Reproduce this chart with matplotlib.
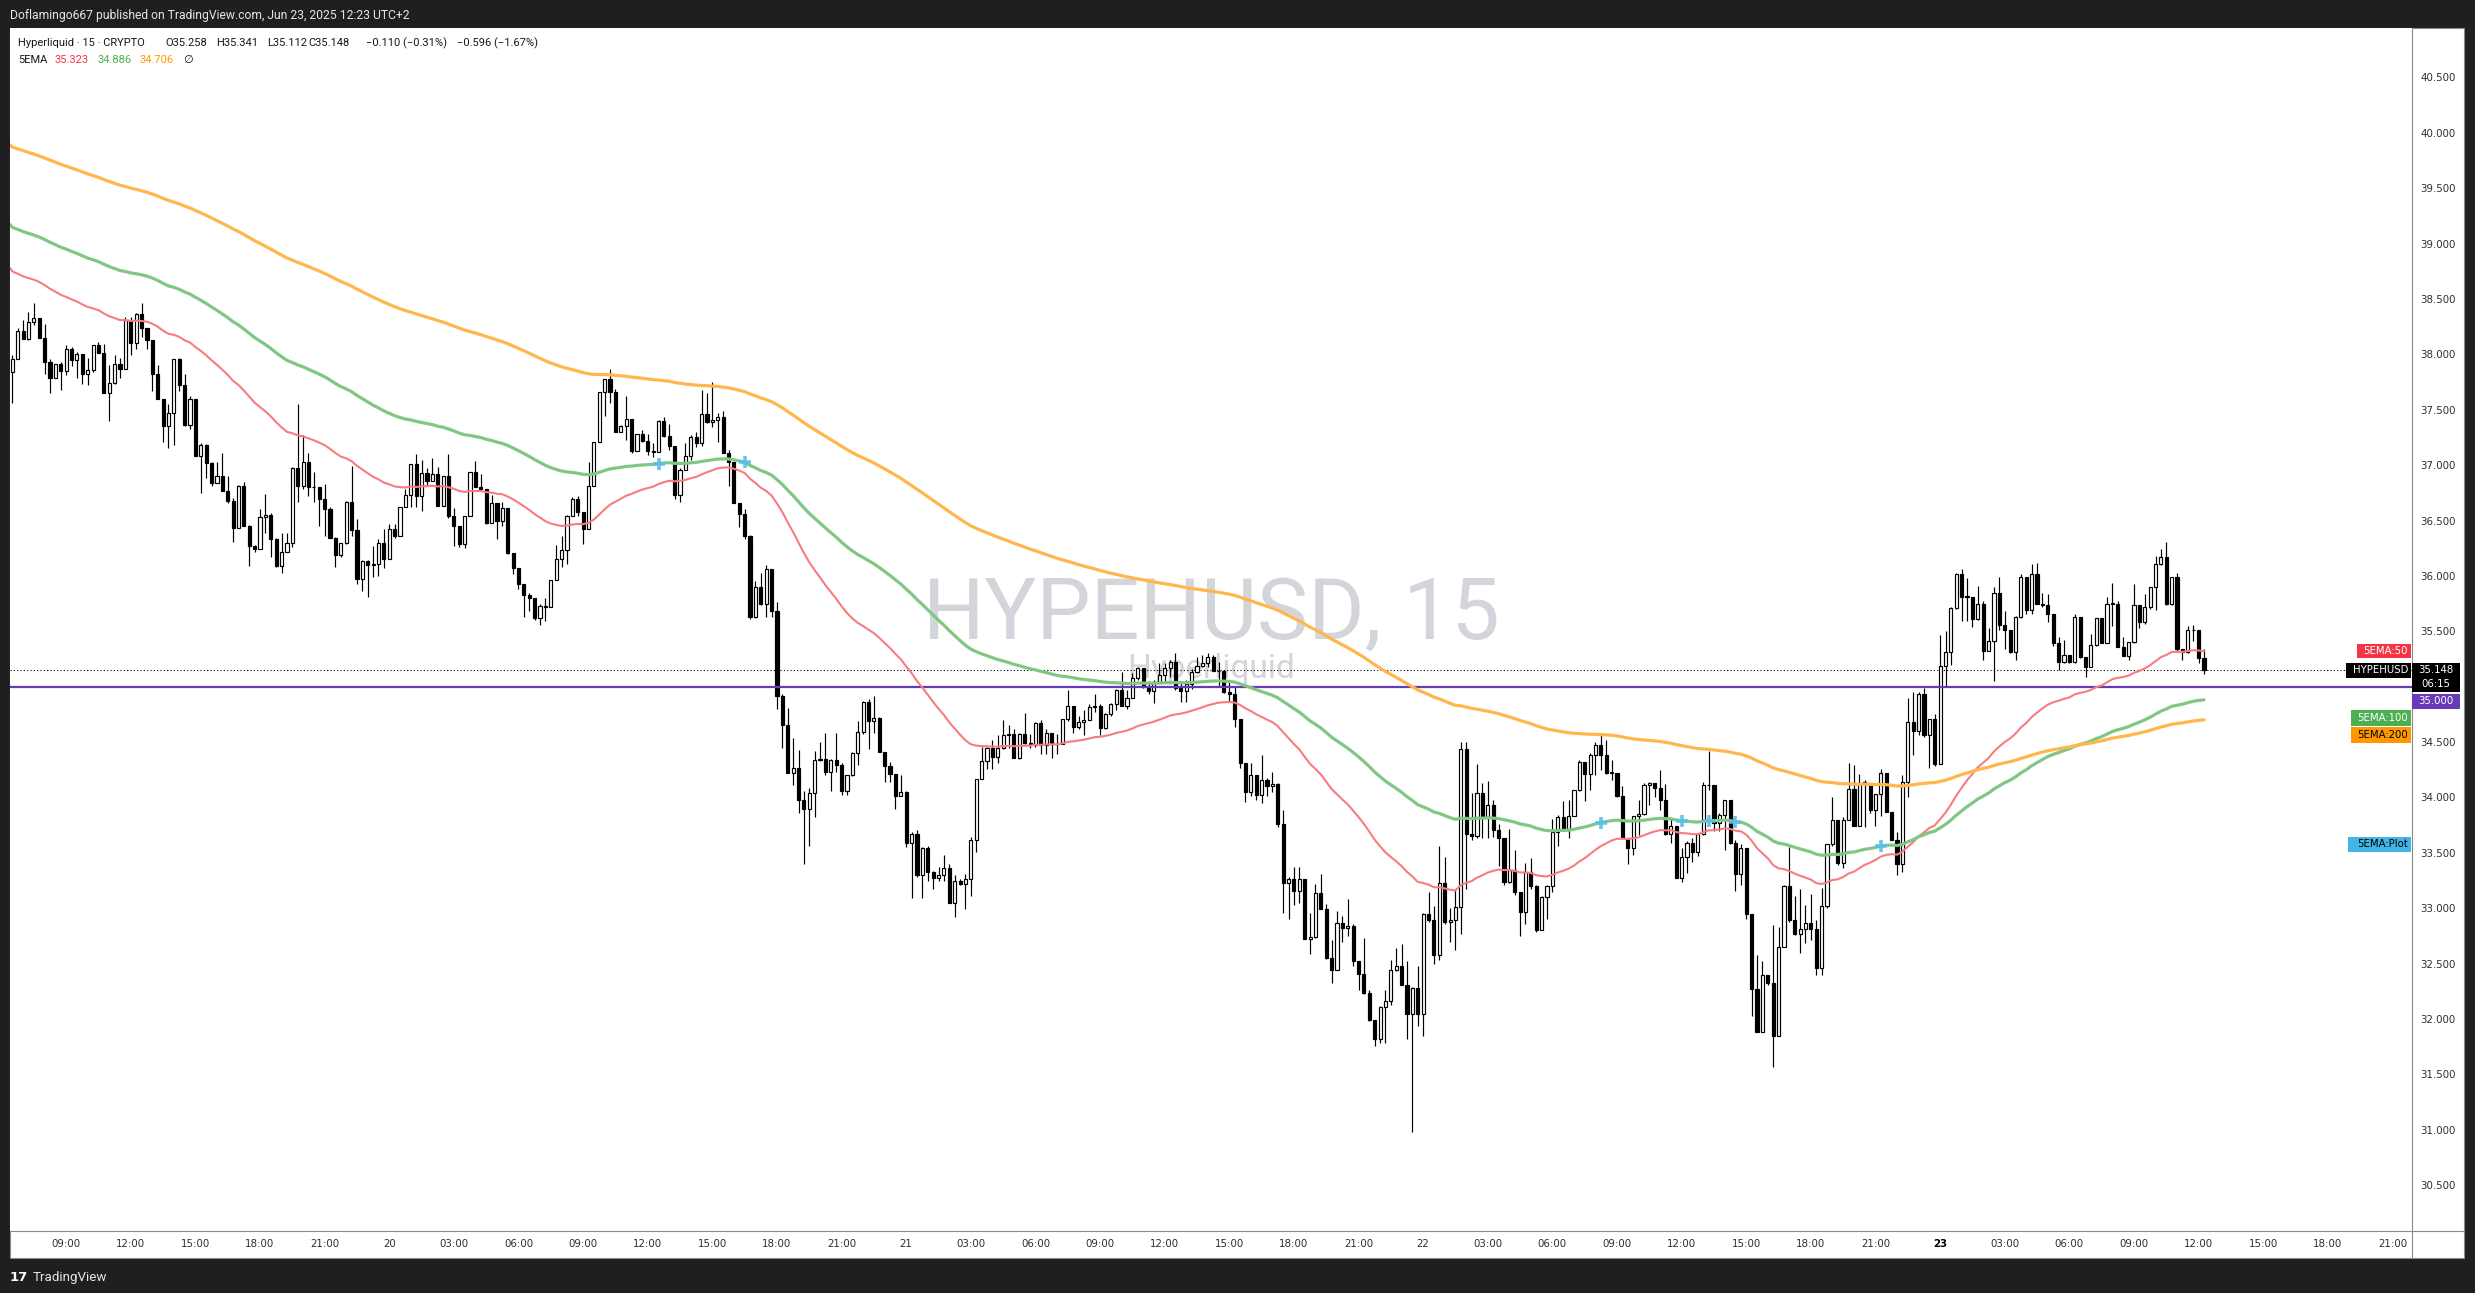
import numpy as np
import pandas as pd
import matplotlib
matplotlib.use("Agg")
import matplotlib.pyplot as plt
from matplotlib.patches import Rectangle
from matplotlib.lines import Line2D

# ---------------- data (15-min candles, HYPEHUSD, from 2025-06-19 06:30) ----------------
start_time = "2025-06-19 06:30"
first_open = 37.84
closes = [
    37.96, 38.21, 38.14, 38.29, 38.33, 38.15, 37.93, 37.79, 37.91, 37.85,
    38.05, 37.95, 38.00, 37.82, 37.86, 38.08, 38.01, 37.65, 37.74, 37.91,
    37.87, 38.31, 38.10, 38.36, 38.24, 38.13, 37.82, 37.60, 37.35, 37.47,
    37.96, 37.72, 37.36, 37.60, 37.08, 37.18, 37.02, 36.84, 36.90, 36.77,
    36.68, 36.43, 36.81, 36.45, 36.27, 36.24, 36.53, 36.55, 36.33, 36.09,
    36.22, 36.30, 36.97, 36.81, 37.03, 36.80, 36.80, 36.69, 36.60, 36.34,
    36.19, 36.30, 36.67, 36.41, 35.97, 36.13, 36.10, 36.11, 36.30, 36.15,
    36.42, 36.36, 36.62, 36.73, 37.01, 36.72, 36.93, 36.86, 36.92, 36.63,
    36.90, 36.54, 36.45, 36.29, 36.54, 36.94, 36.80, 36.78, 36.48, 36.66,
    36.50, 36.61, 36.21, 36.07, 35.93, 35.83, 35.80, 35.62, 35.73, 35.72,
    35.96, 36.15, 36.23, 36.54, 36.69, 36.58, 36.42, 36.81, 37.21, 37.66,
    37.78, 37.66, 37.30, 37.35, 37.42, 37.13, 37.28, 37.22, 37.13, 37.12,
    37.40, 37.26, 37.17, 36.73, 36.96, 37.08, 37.25, 37.20, 37.46, 37.39,
    37.41, 37.43, 37.11, 37.03, 36.66, 36.56, 36.36, 35.63, 35.90, 35.75,
    36.06, 35.68, 34.92, 34.65, 34.22, 34.27, 33.98, 33.90, 34.04, 34.34,
    34.35, 34.23, 34.34, 34.29, 34.06, 34.20, 34.40, 34.59, 34.86, 34.69,
    34.72, 34.41, 34.28, 34.21, 34.01, 34.05, 33.59, 33.67, 33.30, 33.54,
    33.33, 33.27, 33.30, 33.36, 33.05, 33.25, 33.22, 33.26, 33.62, 34.17,
    34.33, 34.45, 34.37, 34.45, 34.56, 34.57, 34.36, 34.57, 34.49, 34.47,
    34.67, 34.47, 34.58, 34.48, 34.48, 34.71, 34.83, 34.64, 34.68, 34.70,
    34.82, 34.83, 34.63, 34.75, 34.84, 34.97, 34.83, 34.90, 35.08, 35.17,
    35.00, 34.96, 35.04, 35.11, 35.17, 35.22, 34.99, 34.96, 35.02, 35.13,
    35.19, 35.21, 35.27, 35.14, 35.14, 34.95, 34.93, 34.71, 34.31, 34.05,
    34.20, 34.02, 34.16, 34.10, 34.12, 33.76, 33.23, 33.26, 33.16, 33.26,
    32.72, 32.74, 33.14, 32.99, 32.55, 32.44, 32.87, 32.82, 32.84, 32.52,
    32.41, 32.24, 31.99, 31.82, 32.11, 32.16, 32.44, 32.48, 32.31, 32.05,
    32.28, 32.05, 32.95, 32.89, 32.58, 33.23, 32.88, 32.89, 33.01, 34.44,
    33.67, 33.65, 34.04, 33.82, 33.93, 33.71, 33.63, 33.24, 33.35, 33.15,
    32.97, 33.33, 33.20, 32.80, 33.10, 33.20, 33.69, 33.82, 33.71, 33.83,
    34.07, 34.32, 34.21, 34.38, 34.47, 34.38, 34.22, 34.22, 34.01, 33.63,
    33.54, 33.83, 33.85, 34.11, 34.13, 34.09, 33.98, 33.67, 33.74, 33.27,
    33.46, 33.59, 33.51, 33.67, 34.11, 34.11, 33.77, 33.84, 33.98, 33.59,
    33.31, 33.54, 32.95, 32.27, 31.88, 32.40, 32.33, 31.85, 32.65, 33.20,
    32.89, 32.77, 32.81, 32.87, 32.81, 32.46, 33.02, 33.58, 33.80, 33.41,
    33.80, 34.08, 33.74, 34.13, 34.13, 33.89, 34.03, 34.22, 33.87, 33.62,
    33.40, 34.14, 34.68, 34.60, 34.93, 34.56, 34.71, 34.30, 35.19, 35.31,
    35.71, 36.02, 35.81, 35.81, 35.61, 35.75, 35.32, 35.41, 35.85, 35.56,
    35.51, 35.31, 35.63, 35.99, 35.69, 36.02, 35.75, 35.74, 35.66, 35.39,
    35.22, 35.29, 35.22, 35.63, 35.27, 35.18, 35.38, 35.62, 35.39, 35.75,
    35.75, 35.36, 35.28, 35.40, 35.74, 35.58, 35.72, 35.90, 36.11, 36.17,
    35.75, 35.99, 35.34, 35.31, 35.51, 35.51, 35.258, 35.148,
]
highs = [
    37.99, 38.24, 38.31, 38.38, 38.46, 38.33, 38.27, 37.96, 37.91, 37.93,
    38.08, 38.07, 38.02, 38.00, 37.97, 38.08, 38.11, 38.09, 37.90, 37.99,
    37.97, 38.34, 38.34, 38.37, 38.46, 38.24, 38.13, 37.90, 37.60, 37.55,
    37.96, 37.97, 37.82, 37.62, 37.60, 37.20, 37.19, 37.03, 37.03, 37.11,
    36.90, 36.70, 36.82, 36.85, 36.46, 36.28, 36.60, 36.74, 36.57, 36.34,
    36.39, 36.39, 36.98, 37.55, 37.27, 37.11, 36.94, 36.80, 36.83, 36.62,
    36.35, 36.30, 36.68, 36.99, 36.51, 36.14, 36.14, 36.27, 36.33, 36.42,
    36.47, 36.47, 36.62, 36.78, 37.01, 37.10, 37.05, 36.97, 37.06, 36.98,
    36.90, 37.10, 36.61, 36.45, 36.54, 36.94, 37.04, 36.92, 36.78, 36.73,
    36.66, 36.67, 36.61, 36.21, 36.07, 35.93, 35.85, 35.80, 35.75, 35.80,
    35.96, 36.28, 36.36, 36.55, 36.71, 36.72, 36.58, 37.03, 37.21, 37.66,
    37.78, 37.87, 37.69, 37.36, 37.62, 37.42, 37.28, 37.32, 37.28, 37.20,
    37.41, 37.43, 37.37, 37.17, 36.97, 37.20, 37.27, 37.30, 37.68, 37.65,
    37.75, 37.47, 37.49, 37.14, 37.03, 36.66, 36.60, 36.37, 35.95, 36.03,
    36.10, 36.06, 35.76, 34.93, 34.81, 34.54, 34.43, 34.06, 34.09, 34.42,
    34.50, 34.58, 34.35, 34.58, 34.31, 34.20, 34.41, 34.69, 34.87, 34.89,
    34.92, 34.73, 34.41, 34.32, 34.21, 34.20, 34.06, 33.69, 33.71, 33.55,
    33.56, 33.34, 33.37, 33.48, 33.40, 33.30, 33.26, 33.31, 33.64, 34.17,
    34.46, 34.46, 34.52, 34.56, 34.70, 34.65, 34.62, 34.58, 34.76, 34.57,
    34.68, 34.70, 34.62, 34.58, 34.57, 34.71, 34.97, 34.83, 34.74, 34.79,
    34.84, 34.93, 34.84, 34.76, 34.85, 34.98, 35.13, 34.97, 35.12, 35.18,
    35.17, 35.05, 35.06, 35.21, 35.21, 35.24, 35.30, 35.05, 35.06, 35.16,
    35.27, 35.29, 35.30, 35.29, 35.22, 35.15, 35.05, 35.01, 34.71, 34.31,
    34.31, 34.20, 34.38, 34.18, 34.23, 34.13, 33.89, 33.28, 33.37, 33.37,
    33.26, 32.96, 33.22, 33.31, 33.04, 32.71, 32.98, 32.93, 33.08, 32.86,
    32.52, 32.73, 32.26, 31.99, 32.12, 32.26, 32.53, 32.64, 32.68, 32.52,
    32.29, 32.48, 32.96, 33.15, 33.02, 33.56, 33.46, 33.00, 33.17, 34.50,
    34.50, 34.04, 34.30, 34.13, 34.15, 33.98, 33.76, 33.63, 33.72, 33.53,
    33.15, 33.41, 33.45, 33.21, 33.11, 33.21, 33.81, 33.84, 33.97, 33.98,
    34.07, 34.34, 34.32, 34.40, 34.50, 34.58, 34.52, 34.34, 34.22, 34.10,
    33.63, 33.83, 33.98, 34.13, 34.14, 34.13, 34.25, 34.12, 33.81, 33.74,
    33.54, 33.61, 33.63, 33.67, 34.14, 34.42, 34.11, 33.86, 33.98, 33.98,
    33.62, 33.58, 33.54, 32.95, 32.58, 32.52, 32.40, 32.85, 32.83, 33.21,
    33.55, 33.11, 33.17, 33.03, 33.13, 32.89, 33.18, 33.58, 34.00, 33.80,
    33.82, 34.31, 34.29, 34.21, 34.16, 34.13, 34.03, 34.26, 34.22, 33.87,
    33.69, 34.20, 34.90, 34.95, 34.95, 34.99, 34.71, 34.75, 35.47, 35.50,
    35.72, 36.03, 36.06, 35.98, 35.81, 35.91, 35.77, 35.53, 35.90, 35.99,
    35.68, 35.51, 35.64, 36.02, 35.99, 36.11, 36.12, 35.85, 35.84, 35.66,
    35.45, 35.42, 35.29, 35.66, 35.63, 35.27, 35.48, 35.62, 35.62, 35.81,
    35.94, 35.77, 35.45, 35.40, 35.93, 35.74, 35.84, 35.90, 36.18, 36.24,
    36.31, 35.99, 36.03, 35.34, 35.55, 35.56, 35.51, 35.341,
]
lows = [
    37.56, 37.96, 38.14, 38.13, 38.26, 38.15, 37.82, 37.65, 37.79, 37.68,
    37.81, 37.89, 37.79, 37.73, 37.72, 37.84, 38.01, 37.65, 37.40, 37.73,
    37.79, 37.87, 37.99, 38.05, 38.16, 38.05, 37.67, 37.60, 37.21, 37.15,
    37.18, 37.67, 37.35, 37.33, 37.08, 36.75, 36.88, 36.81, 36.84, 36.77,
    36.66, 36.31, 36.43, 36.45, 36.09, 36.22, 36.24, 36.39, 36.17, 36.08,
    36.03, 36.22, 36.26, 36.67, 36.78, 36.72, 36.67, 36.45, 36.36, 36.34,
    36.08, 36.17, 36.29, 36.36, 35.93, 35.86, 35.81, 35.99, 36.00, 36.07,
    36.15, 36.34, 36.36, 36.62, 36.62, 36.62, 36.59, 36.82, 36.86, 36.63,
    36.63, 36.52, 36.27, 36.26, 36.25, 36.54, 36.80, 36.78, 36.47, 36.48,
    36.33, 36.45, 36.20, 36.02, 35.88, 35.63, 35.68, 35.60, 35.56, 35.59,
    35.72, 35.96, 36.08, 36.11, 36.54, 36.54, 36.29, 36.42, 36.81, 37.21,
    37.44, 37.56, 37.30, 37.30, 37.23, 37.11, 37.13, 37.21, 37.09, 37.07,
    37.12, 37.25, 37.14, 36.69, 36.67, 36.96, 37.05, 37.16, 37.17, 37.38,
    37.34, 37.21, 37.11, 36.81, 36.66, 36.44, 36.33, 35.61, 35.62, 35.74,
    35.63, 35.63, 34.80, 34.45, 34.22, 34.11, 33.86, 33.40, 33.56, 33.82,
    34.33, 34.20, 34.06, 34.23, 34.02, 34.02, 34.19, 34.29, 34.57, 34.44,
    34.58, 34.41, 34.14, 34.14, 33.90, 34.01, 33.55, 33.09, 33.28, 33.09,
    33.25, 33.17, 33.25, 33.25, 33.05, 32.92, 33.21, 32.99, 33.11, 33.51,
    34.17, 34.26, 34.26, 34.31, 34.44, 34.45, 34.36, 34.35, 34.48, 34.45,
    34.46, 34.39, 34.39, 34.36, 34.39, 34.48, 34.69, 34.58, 34.62, 34.56,
    34.70, 34.77, 34.56, 34.62, 34.74, 34.79, 34.83, 34.80, 34.90, 35.06,
    34.99, 34.93, 34.85, 35.04, 35.03, 35.09, 34.97, 34.86, 34.86, 34.98,
    35.12, 35.18, 35.18, 35.14, 35.00, 34.94, 34.87, 34.64, 34.27, 33.96,
    34.01, 33.98, 33.95, 34.01, 34.05, 33.73, 32.96, 32.90, 33.03, 33.05,
    32.72, 32.59, 32.73, 32.99, 32.54, 32.33, 32.44, 32.70, 32.75, 32.48,
    32.26, 32.23, 31.98, 31.76, 31.78, 31.78, 32.13, 32.43, 32.31, 31.82,
    30.98, 31.94, 31.85, 32.88, 32.50, 32.53, 32.86, 32.70, 32.62, 32.77,
    33.17, 33.62, 33.63, 33.63, 33.63, 33.64, 33.38, 33.21, 33.23, 33.12,
    32.75, 32.86, 33.17, 32.79, 32.80, 32.90, 33.15, 33.56, 33.70, 33.63,
    33.83, 34.06, 33.97, 34.07, 34.20, 34.25, 34.21, 34.16, 34.00, 33.63,
    33.40, 33.48, 33.66, 33.84, 33.93, 34.00, 33.89, 33.66, 33.59, 33.27,
    33.24, 33.32, 33.42, 33.47, 33.66, 34.07, 33.70, 33.70, 33.53, 33.58,
    33.16, 33.21, 32.90, 32.03, 31.88, 31.88, 32.31, 31.57, 31.85, 32.65,
    32.88, 32.76, 32.60, 32.69, 32.71, 32.40, 32.40, 33.00, 33.56, 33.39,
    33.36, 33.80, 33.74, 33.74, 33.73, 33.86, 33.74, 33.83, 33.87, 33.62,
    33.30, 33.33, 34.00, 34.38, 34.56, 34.55, 34.27, 34.28, 34.30, 35.00,
    35.20, 35.70, 35.59, 35.59, 35.54, 35.60, 35.24, 35.32, 35.05, 35.51,
    35.34, 35.30, 35.24, 35.62, 35.66, 35.66, 35.75, 35.72, 35.58, 35.37,
    35.15, 35.21, 35.21, 35.21, 35.26, 35.09, 35.18, 35.37, 35.39, 35.39,
    35.55, 35.36, 35.28, 35.24, 35.39, 35.53, 35.57, 35.70, 35.69, 36.10,
    35.74, 35.74, 35.31, 35.24, 35.30, 35.41, 35.21, 35.112,
]
ema_spans = [50, 100, 200]
ema_seeds = [38.78, 39.17, 39.89]          # EMA values just before the first visible bar
ema_colors = ["#F77C80", "#81C784", "#FFB74D"]
ema_widths = [1.5, 2.3, 2.3]
cross_idx = [120, 136, 295, 310, 315, 320, 347]   # "5EMA:Plot" cross markers
hline_level = 35.0
last_price = 35.148
y_ticks = [30.5, 31.0, 31.5, 32.0, 32.5, 33.0, 33.5, 34.0, 34.5, 35.5,
           36.0, 36.5, 37.0, 37.5, 38.0, 38.5, 39.0, 39.5, 40.0, 40.5]

assert len(closes) == len(highs) == len(lows) == 408

# ---------------- derived ----------------
W, H = 2475, 1293
closes = np.array(closes)
opens = np.r_[first_open, closes[:-1]]
highs = np.maximum.reduce([np.array(highs), opens, closes])
lows = np.minimum.reduce([np.array(lows), opens, closes])
n = len(closes)
x = np.arange(n)

emas = []
for seed, span in zip(ema_seeds, ema_spans):
    s = pd.Series(np.r_[seed, closes]).ewm(span=span, adjust=False).mean().values[1:]
    emas.append(s)

DARK = "#1F1F1F"
TXT = "#131722"
AX_TXT = "#2A2E39"
GRID = "#8A8A8A"
SANS = ["Roboto", "DejaVu Sans"]

fig = plt.figure(figsize=(W / 100, H / 100), dpi=100)
fig.patch.set_facecolor(DARK)

def fx(px):
    return px / W

def fy(py):  # py measured from top
    return 1 - py / H

# white canvas (behind the axes)
fig.patches.append(Rectangle((fx(10), fy(1257.5)), fx(2464 - 10), (1257.5 - 28) / H,
                             transform=fig.transFigure, fc="white", ec=GRID, lw=0.8, zorder=-5))

AX_L, AX_R, AX_T, AX_B = 10, 2412, 28, 1230.5
ax = fig.add_axes([fx(AX_L), fy(AX_B), fx(AX_R - AX_L), (AX_B - AX_T) / H])
ax.set_zorder(1)
ax.set_facecolor("white")
ax.set_xlim(-0.43, 445.63)
ax.set_ylim(30.092, 40.945)

def axp(px, py):
    return ((px - AX_L) / (AX_R - AX_L), (AX_B - py) / (AX_B - AX_T))

# watermark
wx, wy = axp(1211, 639)
ax.text(wx, wy, "HYPEHUSD, 15", transform=ax.transAxes, ha="center", va="baseline",
        fontsize=62, family=SANS, color="#D3D5DB", zorder=0)
wx, wy = axp(1211, 678)
ax.text(wx, wy, "Hyperliquid", transform=ax.transAxes, ha="center", va="baseline",
        fontsize=24, family=SANS, color="#D3D5DB", zorder=0)

# price lines
ax.axhline(last_price, color="black", lw=0.8, ls=(0, (1, 2)), zorder=2)
ax.axhline(hline_level, color="#673AB7", lw=1.6, zorder=5)

# candles
up = closes >= opens
body_bot = np.minimum(opens, closes)
body_h = np.maximum(np.abs(closes - opens), 0.006)
ax.vlines(x, lows, highs, color="black", lw=0.85, zorder=3)
ax.bar(x[up], body_h[up], bottom=body_bot[up], width=0.58, color="white",
       edgecolor="black", linewidth=0.85, zorder=4)
ax.bar(x[~up], body_h[~up], bottom=body_bot[~up], width=0.58, color="black",
       edgecolor="black", linewidth=0.85, zorder=4)

# EMAs
xe = np.r_[-0.43, x]
for e, seed, c, lw in zip(emas, ema_seeds, ema_colors, ema_widths):
    ax.plot(xe, np.r_[seed, e], color=c, lw=lw, zorder=5, solid_capstyle="round")
ax.plot(cross_idx, emas[1][cross_idx], ls="none", marker="+", ms=9, mew=2.6,
        color="#5BBDE8", alpha=0.9, zorder=6)

# axes styling
for sp in ("top", "left"):
    ax.spines[sp].set_visible(False)
for sp in ("right", "bottom"):
    ax.spines[sp].set_color(GRID)
    ax.spines[sp].set_linewidth(0.8)
ax.yaxis.tick_right()
ax.set_yticks(y_ticks)
ax.set_yticklabels([f"{v:.3f}" for v in y_ticks])
ax.tick_params(axis="y", length=0, pad=6, labelsize=7.4, labelcolor=AX_TXT)

times = pd.date_range(start_time, periods=446, freq="15min")
xt = np.arange(10, 446, 12)
labels = [str(times[i].day) if times[i].hour == 0 else times[i].strftime("%H:%M") for i in xt]
ax.set_xticks(xt)
ax.set_xticklabels(labels)
ax.tick_params(axis="x", length=0, pad=6, labelsize=7.4, labelcolor=AX_TXT)
for t in ax.get_xticklabels():
    if t.get_text() == "23":
        t.set_fontweight("bold")
        t.set_color("black")

# extra axis frame lines
fig.lines.append(Line2D([fx(2412), fx(2412)], [fy(1230.5), fy(1257.5)], transform=fig.transFigure,
                        color=GRID, lw=0.8))
fig.lines.append(Line2D([fx(2412), fx(2464)], [fy(1230.5), fy(1230.5)], transform=fig.transFigure,
                        color=GRID, lw=0.8))

# label boxes (pixel layout)
def price_py(p):
    return H - ax.transData.transform((0, p))[1]

def box(x0, x1, yc, h, fc, text, tc, lines=None):
    fig.patches.append(Rectangle((fx(x0), fy(yc + h / 2)), fx(x1 - x0), h / H,
                                 transform=fig.transFigure, fc=fc, ec="none", zorder=5))
    if lines is None:
        fig.text(fx(x1 - 3), fy(yc), text, ha="right", va="center", fontsize=7.3,
                 color=tc, zorder=6, family="DejaVu Sans")
    else:
        for s, yy in lines:
            fig.text(fx((x0 + x1) / 2), fy(yy), s, ha="center", va="center", fontsize=7.3,
                     color=tc, zorder=6, family="DejaVu Sans")

fig.canvas.draw()
y_ema50 = price_py(emas[0][-1])
y_last = price_py(last_price)
y_h = price_py(hline_level)
box(2357, 2411, y_ema50, 14, "#F23645", "5EMA:50", "white")
box(2346, 2411, y_last, 15, "black", "HYPEHUSD", "white")
box(2412, 2460, y_last + 6.7, 29, "black", None, "white",
    lines=[(f"{last_price:.3f}", y_last), ("06:15", y_last + 13.2)])
box(2412, 2460, y_h + 14.8, 15, "#673AB7", None, "white", lines=[(f"{hline_level:.3f}", y_h + 14.8)])
box(2351, 2411, 718.3, 16, "#4CAF50", "5EMA:100", "white")
box(2351, 2411, 735.5, 16, "#FF9800", "5EMA:200", "black")
box(2348, 2411, 844, 15, "#42B4E6", "5EMA:Plot", "black")

# header
fig.text(fx(10), fy(19), "Doflamingo667 published on TradingView.com, Jun 23, 2025 12:23 UTC+2",
         ha="left", va="baseline", fontsize=8.7, family=SANS, color="#E6E6E6")
LEG_FS = 8.0
leg1 = [("Hyperliquid \u00b7 15 \u00b7 CRYPTO", 18.3), ("O35.258", 165), ("H35.341", 216),
        ("L35.112", 267), ("C35.148", 308), ("\u22120.110 (\u22120.31%)", 366),
        ("\u22120.596 (\u22121.67%)", 457)]
for s, px in leg1:
    fig.text(fx(px), fy(46.5), s, ha="left", va="baseline", fontsize=LEG_FS, family=SANS, color=TXT)
leg2 = [("5EMA", 18.3, TXT), ("35.323", 54, "#F23645"), ("34.886", 97.3, "#4CAF50"),
        ("34.706", 140, "#FF9800"), ("\u2205", 183, TXT)]
for s, px, c in leg2:
    fig.text(fx(px), fy(63.3), s, ha="left", va="baseline", fontsize=LEG_FS, family=SANS, color=c)

# footer logo
fig.text(fx(10), fy(1281), "17", ha="left", va="baseline", fontsize=9.5, fontweight="bold",
         family="DejaVu Sans", color="white")
fig.text(fx(33), fy(1281), "TradingView", ha="left", va="baseline", fontsize=9.6, family=SANS,
         color="#E6E6E6")

fig.savefig("out.png", dpi=100, facecolor=fig.get_facecolor())
